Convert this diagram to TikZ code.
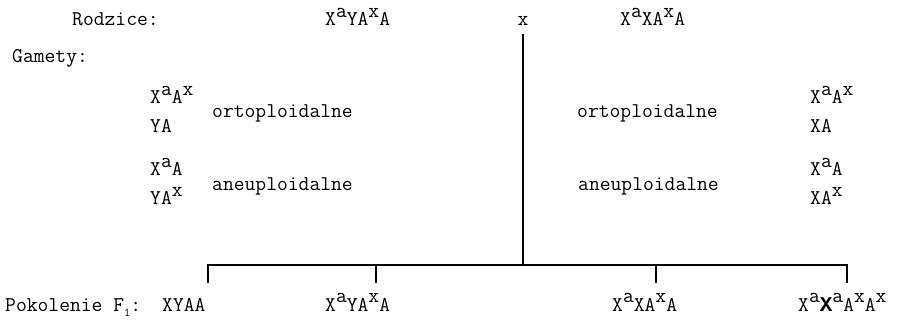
\documentclass[tikz,border=0pt]{standalone}
\usepackage{fontspec}
\newfontfamily\heavytt{Liberation Mono}
\usetikzlibrary{positioning}
\newcommand{\su}[1]{\raisebox{0.9ex}{#1}}
\newcommand{\sbone}{\raisebox{-0.6ex}{\fontsize{12}{13}\selectfont 1}}

\begin{document}
\begin{tikzpicture}[x=1pt,y=-1pt,
  txt/.style={anchor=base west,inner sep=0pt,font=\ttfamily\fontsize{21}{23}\selectfont},
  bar/.style={line width=2.8pt}]
\useasboundingbox (0,0) rectangle (905,323);
% parents
\node[txt] (rodz) at (72,26) {Rodzice:};
\node[txt] (p1) at (325,26) {X\su{a}YA\su{x}A};
\node[txt,anchor=base] (cross) at (523,26) {x};
\node[txt] (p2) at (620,26) {X\su{a}XA\su{x}A};
% gametes, left parent
\node[txt] (gam) at (12,63) {Gamety:};
\node[txt] (g1) at (150,104) {X\su{a}A\su{x}};
\node[txt] (g2) at (150,133) {YA};
\node[txt] (g3) at (150,176) {X\su{a}A};
\node[txt] (g4) at (150,205) {YA\su{x}};
\node[txt] (orto1) at (212,118) {ortoploidalne};
\node[txt] (aneu1) at (212,191) {aneuploidalne};
% gametes, right parent
\node[txt] (orto2) at (577,118) {ortoploidalne};
\node[txt] (aneu2) at (578,191) {aneuploidalne};
\node[txt] (h1) at (810,104) {X\su{a}A\su{x}};
\node[txt] (h2) at (810,133) {XA};
\node[txt] (h3) at (810,176) {X\su{a}A};
\node[txt] (h4) at (810,205) {XA\su{x}};
% offspring
\node[txt] (pok) at (5,311) {Pokolenie F\sbone:};
\node[txt] (f1) at (162,311) {XYAA};
\node[txt] (f2) at (325,311) {X\su{a}YA\su{x}A};
\node[txt] (f3) at (612,311) {X\su{a}XA\su{x}A};
\node[txt] (f4) at (798,311) {X\su{a}{\heavytt\bfseries X}\su{a}A\su{x}A\su{x}};
% crossing lines
\coordinate (j) at (523,265);
\coordinate (t1) at (208,283);
\coordinate (t2) at (376,283);
\coordinate (t3) at (656,283);
\coordinate (t4) at (847,283);
\draw[bar] (cross.south) ++(0,8) -- (j);
\draw[bar] (t1) -- (t1 |- j) -- (t4 |- j) -- (t4);
\draw[bar] (t2 |- j) -- (t2);
\draw[bar] (t3 |- j) -- (t3);
\end{tikzpicture}
\end{document}
